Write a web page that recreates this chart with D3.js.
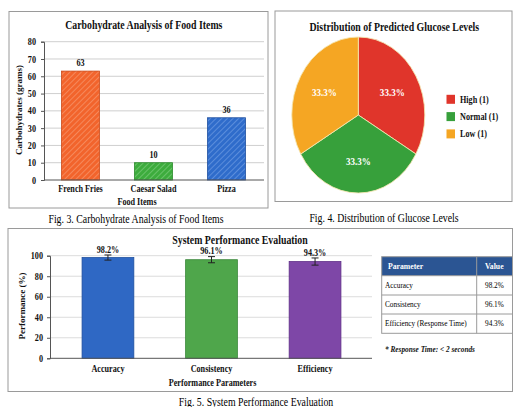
<!DOCTYPE html>
<html>
<head>
<meta charset="utf-8">
<script src="https://cdn.jsdelivr.net/npm/d3@7/dist/d3.min.js"></script>
<style>
  html, body { margin: 0; padding: 0; background: #fff; }
  svg { display: block; }
</style>
</head>
<body>
<svg id="fig" width="513" height="407"></svg>
<script>
// ---- data ----
const foodItems = ["French Fries", "Caesar Salad", "Pizza"];
const carbGrams = [63, 10, 36];
const carbTicks = [0, 10, 20, 30, 40, 50, 60, 70, 80];

const glucoseLevels = ["High (1)", "Normal (1)", "Low (1)"];
const glucoseCounts = [1, 1, 1];

const perfParams = ["Accuracy", "Consistency", "Efficiency"];
const perfValues = [98.2, 96.1, 94.3];
const perfErrors = [2.5, 3.0, 3.5];
const perfTicks = [0, 20, 40, 60, 80, 100];

const tableHeader = ["Parameter", "Value"];
const tableRows = [
  ["Accuracy", "98.2%"],
  ["Consistency", "96.1%"],
  ["Efficiency (Response Time)", "94.3%"]
];

// ---- styling helpers ----
const FONT = "'Liberation Serif', 'Times New Roman', serif";
const SX = 0.86; // narrow set of the serif face
const svg = d3.select("#fig");

function txt(g, x, y, s, o = {}) {
  return g.append("text")
    .attr("transform", `translate(${x},${y}) scale(${o.sx || SX},1)`)
    .attr("text-anchor", o.anchor || "middle")
    .attr("dominant-baseline", "central")
    .style("font-family", FONT)
    .style("font-size", (o.size || 9) + "px")
    .style("font-weight", o.weight || "bold")
    .style("font-style", o.style || "normal")
    .attr("fill", o.fill || "#111")
    .text(s);
}

function vtxt(g, x, y, s, size) {
  return g.append("text")
    .attr("transform", `translate(${x},${y}) rotate(-90) scale(1,${SX})`)
    .attr("text-anchor", "middle").attr("dominant-baseline", "central")
    .style("font-family", FONT).style("font-size", size + "px").style("font-weight", "bold")
    .attr("fill", "#111").text(s);
}

function panel(x0, y0, x1, y1) {
  svg.append("rect").attr("x", x0).attr("y", y0)
    .attr("width", x1 - x0).attr("height", y1 - y0)
    .attr("fill", "#fff").attr("stroke", "#9a9a9a").attr("stroke-width", 1);
}

function styleAxis(g, pad) {
  g.selectAll(".domain").attr("stroke", "#555");
  g.selectAll(".tick line").attr("stroke", "#555");
  g.selectAll(".tick text")
    .attr("transform", `scale(${SX},1)`)
    .attr("x", -pad / SX)
    .style("font-family", FONT).style("font-size", "9.5px")
    .style("font-weight", "bold").attr("fill", "#111");
}

const TITLE = { size: 12.3, sx: 0.8 };
const CAPTION = { size: 11.5, sx: 0.855, weight: "normal", fill: "#000" };

// hatch patterns for the carbohydrate bars
const defs = svg.append("defs");
const carbFill = ["#f2642c", "#3dac3d", "#2f6ccb"];
const carbHatch = ["#f8a07a", "#86d286", "#78a3e6"];
const carbEdge = ["#c94a1a", "#2a8a2a", "#1f4f9e"];
carbFill.forEach((c, i) => {
  const p = defs.append("pattern").attr("id", "hatch" + i)
    .attr("patternUnits", "userSpaceOnUse").attr("width", 4).attr("height", 4)
    .attr("patternTransform", "rotate(45)");
  p.append("rect").attr("width", 4).attr("height", 4).attr("fill", c);
  p.append("line").attr("x1", 0).attr("y1", 0).attr("x2", 0).attr("y2", 4)
    .attr("stroke", carbHatch[i]).attr("stroke-width", 1.2);
});

// ================= Fig. 3: carbohydrate bars =================
panel(9, 11.5, 268, 208);
{
  const g = svg.append("g");
  const y = d3.scaleLinear().domain([0, 80]).range([180, 41.7]);
  const x = d3.scaleBand().domain(foodItems).range([44, 263])
    .paddingInner(0.48).paddingOuter(0.24);

  // grid
  g.append("g").selectAll("line").data(carbTicks.slice(1)).join("line")
    .attr("x1", 44).attr("x2", 264)
    .attr("y1", d => y(d)).attr("y2", d => y(d))
    .attr("stroke", "#cfcfcf").attr("stroke-width", 1);

  g.selectAll(".bar").data(carbGrams).join("rect")
    .attr("x", (d, i) => x(foodItems[i]))
    .attr("width", x.bandwidth())
    .attr("y", d => y(d)).attr("height", d => y(0) - y(d))
    .attr("fill", (d, i) => `url(#hatch${i})`)
    .attr("stroke", (d, i) => carbEdge[i]).attr("stroke-width", 0.8);

  const ya = g.append("g").attr("transform", "translate(44,0)")
    .call(d3.axisLeft(y).tickValues(carbTicks).tickSize(3).tickPadding(6));
  styleAxis(ya, 8);
  g.append("line").attr("x1", 44).attr("x2", 264).attr("y1", y(0)).attr("y2", y(0))
    .attr("stroke", "#555");

  carbGrams.forEach((v, i) => {
    const cx = x(foodItems[i]) + x.bandwidth() / 2;
    txt(g, cx, y(v) - 8, String(v), { size: 9.5 });
    txt(g, cx, 188.5, foodItems[i], { size: 9.5 });
  });
  txt(g, 137, 201.5, "Food Items", { size: 9.5 });
  vtxt(g, 20, 110, "Carbohydrates (grams)", 9);
  txt(g, 143.8, 25, "Carbohydrate Analysis of Food Items", TITLE);
}
txt(svg, 136, 219, "Fig. 3. Carbohydrate Analysis of Food Items", CAPTION);

// ================= Fig. 4: glucose pie =================
panel(275, 11, 512, 201.5);
{
  const cx = 358.3, cy = 115, r = 66.5, ry = 78;
  const k = ry / r;
  const colors = ["#e0352b", "#37a03b", "#f5a623"];
  const pie = d3.pie().sort(null).value(d => d)(glucoseCounts);
  const arc = d3.arc().innerRadius(0).outerRadius(r);
  const g = svg.append("g").attr("transform", `translate(${cx},${cy}) scale(1,${k})`);
  g.selectAll("path").data(pie).join("path")
    .attr("d", arc).attr("fill", (d, i) => colors[i])
    .attr("stroke", "#f4e6b0").attr("stroke-width", 0.8);

  const lab = d3.arc().innerRadius(r * 0.59).outerRadius(r * 0.59);
  const total = d3.sum(glucoseCounts);
  pie.forEach(d => {
    const [lx, ly] = lab.centroid(d);
    txt(svg, cx + lx, cy + ly * k, (d.value / total * 100).toFixed(1) + "%",
      { size: 10.5, fill: "#fff" });
  });

  glucoseLevels.forEach((s, i) => {
    const yy = 99.3 + i * 17.3;
    svg.append("rect").attr("x", 446.5).attr("y", yy - 4.5)
      .attr("width", 8.5).attr("height", 9).attr("fill", colors[i]);
    txt(svg, 460, yy, s, { size: 9.5, anchor: "start" });
  });
  txt(svg, 394.3, 26.5, "Distribution of Predicted Glucose Levels", TITLE);
}
txt(svg, 384, 218, "Fig. 4. Distribution of Glucose Levels", CAPTION);

// ================= Fig. 5: performance bars + table =================
panel(8, 228.5, 512.5, 391.5);
{
  const g = svg.append("g");
  const y = d3.scaleLinear().domain([0, 100]).range([358.3, 255.7]);
  const x = d3.scaleBand().domain(perfParams).range([51, 372])
    .paddingInner(0.5).paddingOuter(0.3);
  const fill = ["#2f68c4", "#4fa64b", "#7e47a7"];
  const edge = ["#1f4f9e", "#3a873a", "#5f2f88"];

  g.append("g").selectAll("line").data(perfTicks.slice(1)).join("line")
    .attr("x1", 50).attr("x2", 372)
    .attr("y1", d => y(d)).attr("y2", d => y(d))
    .attr("stroke", "#dcdcdc").attr("stroke-width", 1);

  g.selectAll(".pbar").data(perfValues).join("rect")
    .attr("x", (d, i) => x(perfParams[i])).attr("width", x.bandwidth())
    .attr("y", d => y(d)).attr("height", d => y(0) - y(d))
    .attr("fill", (d, i) => fill[i])
    .attr("stroke", (d, i) => edge[i]).attr("stroke-width", 0.8);

  perfValues.forEach((v, i) => {
    const cx = x(perfParams[i]) + x.bandwidth() / 2;
    const e = perfErrors[i];
    g.append("line").attr("x1", cx).attr("x2", cx)
      .attr("y1", y(v + e)).attr("y2", y(v - e)).attr("stroke", "#222");
    [v + e, v - e].forEach(t => g.append("line")
      .attr("x1", cx - 3.5).attr("x2", cx + 3.5)
      .attr("y1", y(t)).attr("y2", y(t)).attr("stroke", "#222"));
    txt(g, cx, y(v + e) - 5.5, v.toFixed(1) + "%", { size: 9.5 });
    txt(g, cx, 368.3, perfParams[i], { size: 9.5 });
  });

  const ya = g.append("g").attr("transform", "translate(50,0)")
    .call(d3.axisLeft(y).tickValues(perfTicks).tickSize(3).tickPadding(5));
  styleAxis(ya, 7);
  g.append("line").attr("x1", 50).attr("x2", 372).attr("y1", y(0)).attr("y2", y(0))
    .attr("stroke", "#555");

  txt(g, 212.5, 382.3, "Performance Parameters", { size: 9.5 });
  vtxt(g, 22.5, 306, "Performance (%)", 9);
  txt(g, 240, 240, "System Performance Evaluation", TITLE);

  // summary table
  const tx0 = 381.7, tx1 = 476.7, tx2 = 512.5;
  const rowY = [256.7, 275.7, 295, 314, 333.3];
  const t = svg.append("g");
  t.append("rect").attr("x", tx0).attr("y", rowY[0])
    .attr("width", tx2 - tx0).attr("height", rowY[1] - rowY[0]).attr("fill", "#2b5593");
  t.append("rect").attr("x", tx0).attr("y", rowY[0])
    .attr("width", tx2 - tx0).attr("height", rowY[4] - rowY[0])
    .attr("fill", "none").attr("stroke", "#9a9a9a");
  rowY.slice(1, 4).forEach(yy => t.append("line")
    .attr("x1", tx0).attr("x2", tx2).attr("y1", yy).attr("y2", yy).attr("stroke", "#9a9a9a"));
  t.append("line").attr("x1", tx1).attr("x2", tx1)
    .attr("y1", rowY[0]).attr("y2", rowY[4]).attr("stroke", "#9a9a9a");
  txt(t, 388, (rowY[0] + rowY[1]) / 2, tableHeader[0], { size: 9, anchor: "start", fill: "#fff" });
  txt(t, 485, (rowY[0] + rowY[1]) / 2, tableHeader[1], { size: 9, anchor: "start", fill: "#fff" });
  tableRows.forEach((r, i) => {
    const yy = (rowY[i + 1] + rowY[i + 2]) / 2;
    txt(t, 385, yy, r[0], { size: 8.5, anchor: "start", weight: "normal", fill: "#000" });
    txt(t, 485, yy, r[1], { size: 8.5, anchor: "start", weight: "normal", fill: "#000" });
  });
  txt(t, 385, 349, "* Response Time: < 2 seconds",
    { size: 8.5, anchor: "start", style: "italic" });
}
txt(svg, 256, 402, "Fig. 5. System Performance Evaluation", CAPTION);
</script>
</body>
</html>
